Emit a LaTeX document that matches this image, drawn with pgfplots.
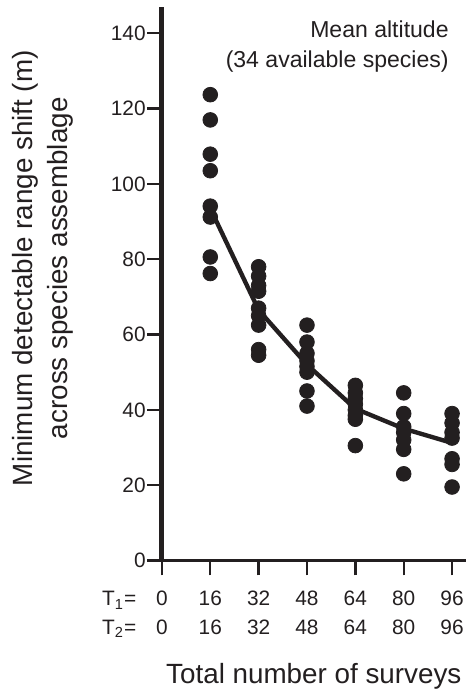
\documentclass[border=0pt]{standalone}
\usepackage{fontspec}
\setmainfont{Liberation Sans}
\usepackage{pgfplots}
\pgfplotsset{compat=1.18}
\definecolor{ink}{HTML}{231F20}

\begin{document}
\begin{tikzpicture}
\begin{axis}[
  scale only axis,
  width=152.9pt, height=278.6pt,
  xmin=0, xmax=100.5, ymin=0, ymax=147,
  axis x line=bottom, axis y line=left,
  x axis line style={-, line width=1.6pt, ink},
  y axis line style={-, line width=2.5pt, ink},
  tick style={line width=1.2pt, ink},
  tick align=outside, major tick length=7.5pt,
  xtick={0,16,32,48,64,80,96},
  xticklabels={{\llap{T\textsubscript{1}=\hspace{10pt}}0\\\llap{T\textsubscript{2}=\hspace{10pt}}0},
    16\\16, 32\\32, 48\\48, 64\\64, 80\\80, 96\\96},
  xticklabel style={align=center, font=\fontsize{10.5}{14.5}\selectfont, text=ink, yshift=-4.5pt},
  ytick={0,20,...,140},
  yticklabel style={font=\fontsize{10.5}{12}\selectfont, text=ink, inner sep=0.5pt},
  /pgf/number format/assume math mode=true,
  xlabel={Total number of surveys},
  xlabel style={at={(axis description cs:0.5,0)}, anchor=base, yshift=-62pt,
    font=\fontsize{14}{17}\selectfont, text=ink},
  ylabel={Minimum detectable range shift (m)\\across species assemblage},
  ylabel style={at={([xshift=-44.5pt]axis description cs:0,0.528)}, anchor=south,
    align=center, font=\fontsize{14}{17.5}\selectfont, text=ink, inner sep=0pt},
  clip=false,
]
\addplot[ink, line width=2.2pt] coordinates {(16,93.5) (32,66.5) (48,52) (64,40.3) (80,35) (96,31.2)};
\addplot[only marks, mark=*, mark size=3.7pt, ink] coordinates {
  (16,123.7) (16,117.0) (16,107.9) (16,103.5) (16,94.1) (16,91.2) (16,80.6) (16,76.2)
  (32,78) (32,75.5) (32,73) (32,71.5) (32,67) (32,65) (32,62.5) (32,56) (32,54.5)
  (48,62.5) (48,58) (48,55) (48,53) (48,51.5) (48,50) (48,45) (48,41)
  (64,46.5) (64,44.5) (64,43) (64,41.5) (64,40) (64,38.5) (64,37.5) (64,30.5)
  (80,44.5) (80,39) (80,35.5) (80,34) (80,32) (80,29.5) (80,23)
  (96,39) (96,36.5) (96,34) (96,32.5) (96,27) (96,25.5) (96,19.5)
};
\node[anchor=base east, inner sep=0pt, font=\fontsize{11.6}{13}\selectfont, text=ink] at (axis cs:95,139) {Mean altitude};
\node[anchor=base east, inner sep=0pt, font=\fontsize{11.6}{13}\selectfont, text=ink] at (axis cs:95,130.8) {(34 available species)};
% blank margin at the top left, as in the reference
\path ([xshift=-81.5pt, yshift=3.5pt]axis description cs:0,1);
\end{axis}
\end{tikzpicture}
\end{document}
